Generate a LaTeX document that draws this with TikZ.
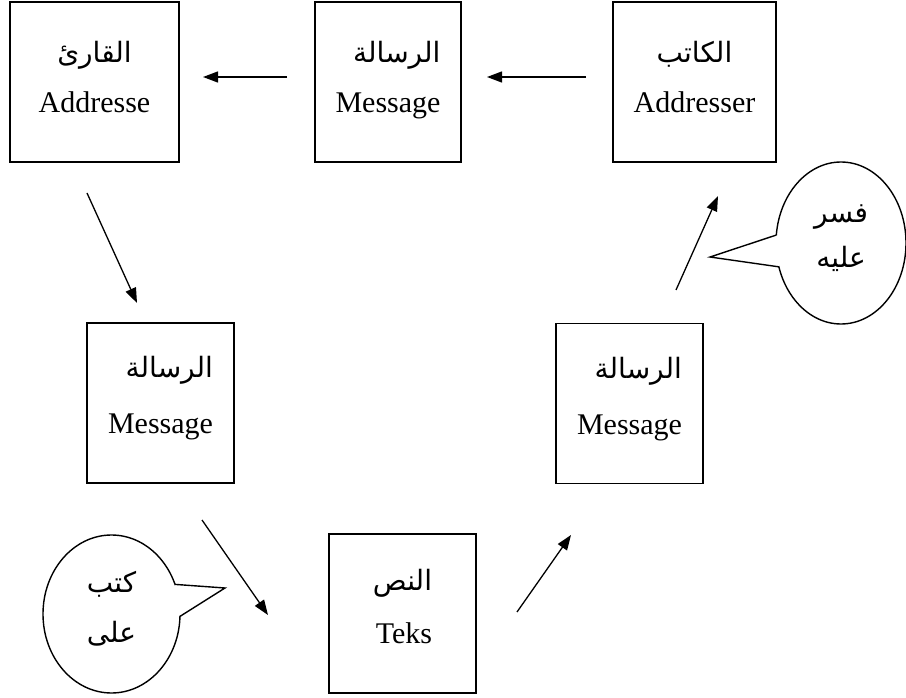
\documentclass[tikz,border=0pt]{standalone}
\usepackage{fontspec}
\setmainfont{Liberation Serif}
\newfontfamily\arabicfont[Script=Arabic]{DejaVu Sans}
\TeXXeTstate=1
\usetikzlibrary{shapes.geometric}
\usetikzlibrary{arrows.meta}
\newcommand{\arabictext}[1]{{\arabicfont\fontsize{28}{30}\selectfont\beginR #1\endR}}
\tikzstyle{box}=[draw, line width=1.5pt, inner sep=0, outer sep=0, minimum height=160pt, text depth=10pt,
                 % Both lines of a box share one size.
                 font=\fontsize{30}{50}\selectfont]
\tikzstyle{midbox}=[box, align=right, minimum width=147pt, text depth=16pt, font=\fontsize{30}{56}\selectfont]
\tikzstyle{bubble}=[draw, ellipse, line width=1.4pt, inner sep=0, outer sep=0, align=center, text depth=14pt]
\tikzstyle{flow}=[-{Triangle[length=15pt, width=11pt]}, line width=1.3pt]
\tikzstyle{pointer}=[line width=1.4pt, line join=miter]

\begin{document}
\begin{tikzpicture}[x=1pt, y=-1pt]
        \useasboundingbox (0, 0) rectangle (906, 698);
        % top row, from right to left
        \node[box, align=center, minimum width=169pt] (reader) at (94.5, 82) {\arabictext{القارئ}\\Addresse};
        \node[box, align=right, minimum width=146pt] (msgtop) at (388, 82) {\arabictext{الرسالة}\\Message};
        \node[box, align=center, minimum width=163pt] (writer) at (694.5, 82) {\arabictext{الكاتب}\\Addresser};
        \node[midbox] (msgleft) at (160.5, 403) {\arabictext{الرسالة}\\Message};
        \node[midbox] (msgright) at (629.5, 403.5) {\arabictext{الرسالة}\\Message};
        \node[box, align=right, minimum width=147pt, minimum height=159pt, text depth=14pt,
              font=\fontsize{30}{53}\selectfont] (teks) at (402.5, 613.5) {\arabictext{النص}\\Teks};
        \draw[flow] ([yshift=5pt]msgtop.west) [shorten <=28pt, shorten >=24pt] -- ([yshift=5pt]reader.east);
        \draw[flow] ([yshift=5pt]writer.west) [shorten <=27pt, shorten >=26pt] -- ([yshift=5pt]msgtop.east);
        \coordinate (reader-out) at (87, 193);
        \coordinate (msgleft-in) at (137, 303);
        \coordinate (msgleft-out) at (202, 520);
        \coordinate (teks-in) at (268, 615);
        \coordinate (teks-out) at (517, 612);
        \coordinate (msgright-in) at (571, 535);
        \coordinate (msgright-out) at (676, 290);
        \coordinate (writer-in) at (718, 196);
        \draw[flow] (reader-out) -- (msgleft-in);
        \draw[flow] (msgleft-out) -- (teks-in);
        \draw[flow] (teks-out) -- (msgright-in);
        \draw[flow] (msgright-out) -- (writer-in);
        % speech bubbles
        \node[bubble, minimum width=137pt, minimum height=158pt, font=\fontsize{30}{50}\selectfont] (wrote) at (111.5, 614) {\arabictext{كتب}\\\arabictext{على}};
        \coordinate (wrote-tip) at (225, 588);
        \fill[white] (wrote.25) -- (wrote-tip) -- (wrote.358) -- ([xshift=-12pt]wrote.12) -- cycle;
        \draw[pointer] (wrote.25) -- (wrote-tip) -- (wrote.358);
        \node[bubble, minimum width=130pt, minimum height=162pt, font=\fontsize{30}{45}\selectfont] (explained) at (841, 243) {\arabictext{فسر}\\\arabictext{عليه}};
        \coordinate (explained-tip) at (710, 257);
        \fill[white] (explained.173) -- (explained-tip) -- (explained.201) -- ([xshift=12pt]explained.187) -- cycle;
        \draw[pointer] (explained.173) -- (explained-tip) -- (explained.201);
    \end{tikzpicture}
\end{document}
